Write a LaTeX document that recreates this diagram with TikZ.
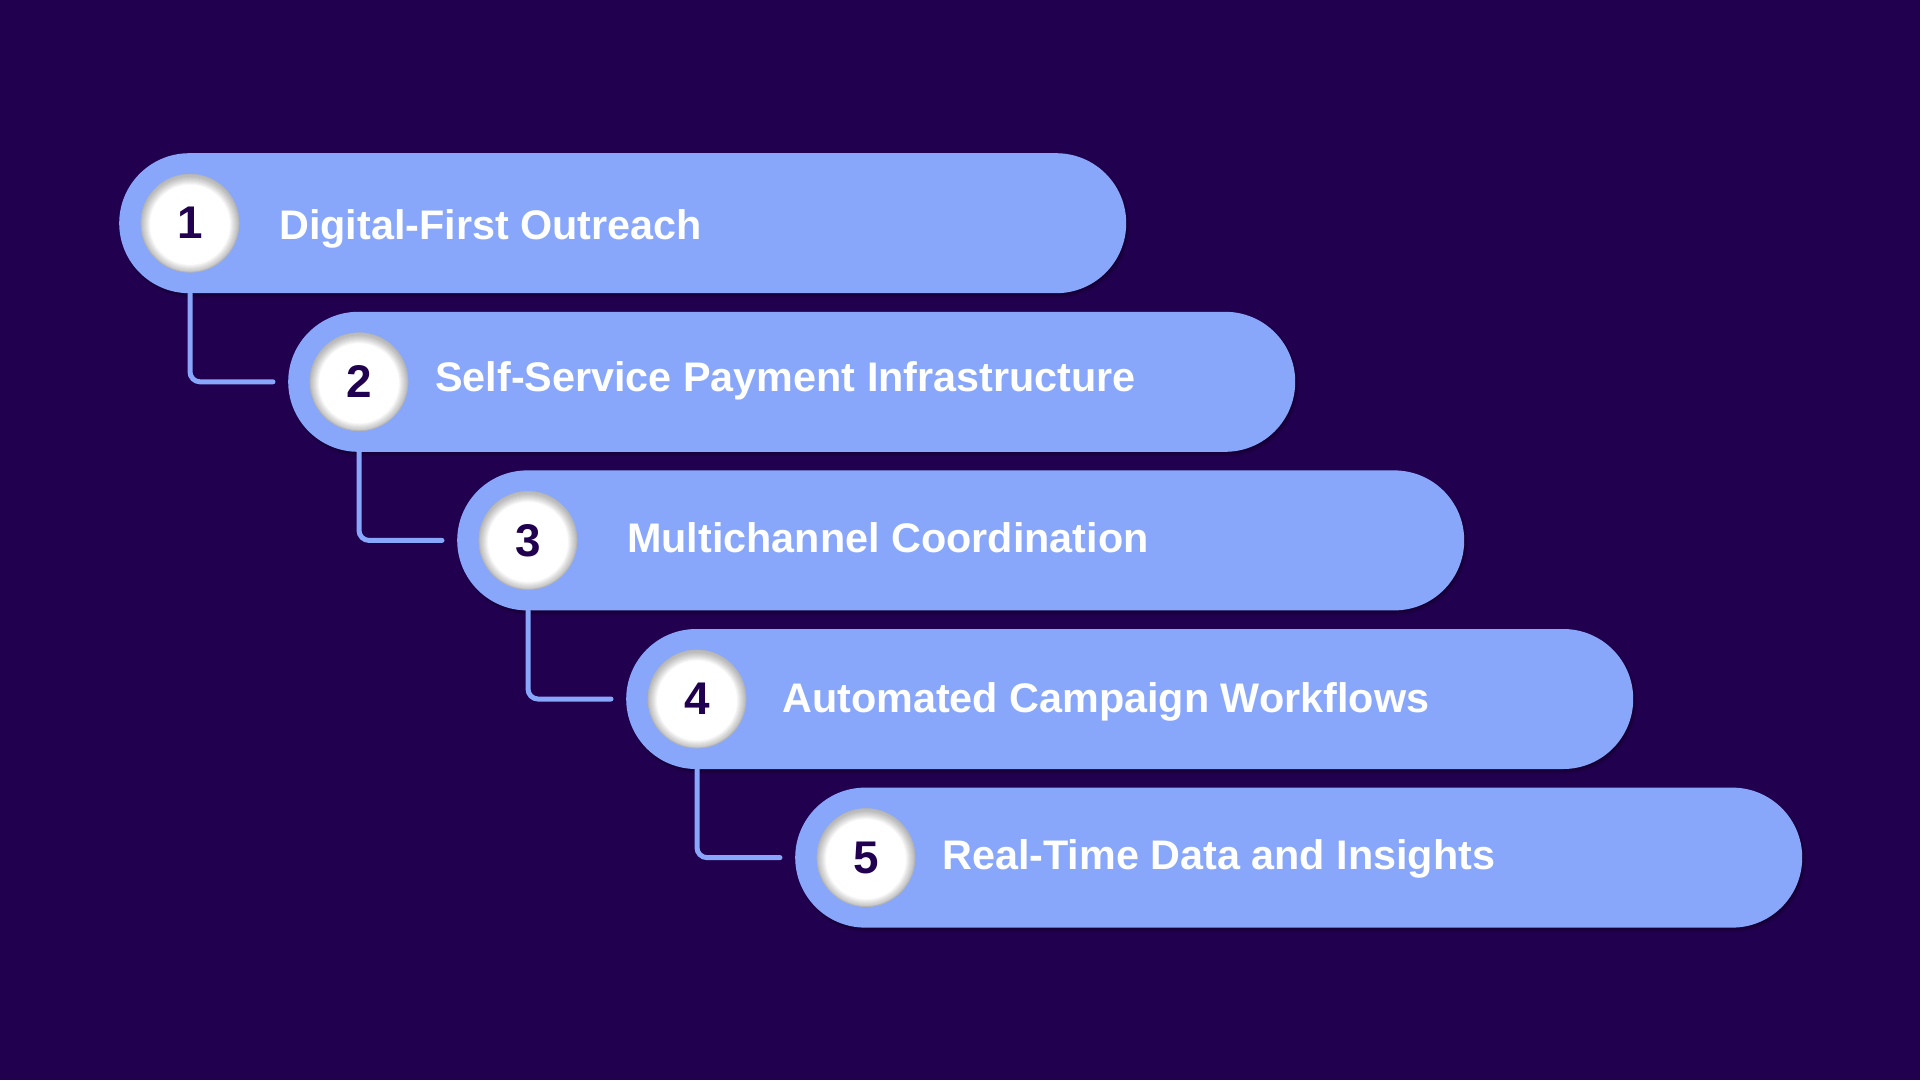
\documentclass[tikz,border=0pt]{standalone}
\usepackage{fontspec}
\setmainfont{Liberation Sans}
\usepackage{xcolor}
\usepackage{tikz}
\usetikzlibrary{calc, positioning, shadows.blur}

\definecolor{nen}{HTML}{21004F}
\definecolor{xanh}{HTML}{88A7FB}
\definecolor{vien}{HTML}{B4B4B4}

\begin{document}
\begin{tikzpicture}[x=1bp, y=-1bp,
    thanh/.style={fill=xanh, rounded corners=70bp, minimum width=1007bp, minimum height=140bp,
        inner sep=0pt, anchor=north west,
        blur shadow={shadow xshift=2bp, shadow yshift=-3bp, shadow opacity=30, shadow blur steps=6}},
    so/.style={circle, minimum size=98bp, inner sep=0pt, fill=white, draw=vien, line width=0.8bp,
        text=nen, font=\fontsize{46}{46}\selectfont\bfseries,
        path picture={
            % bóng trong ở mép
            \foreach \k in {1,...,9}
                \draw[black, opacity=0.03, line width=2*\k bp]
                    ([yshift=-1.5bp]path picture bounding box.center) circle (49bp);
        }},
    nhan/.style={anchor=base west, inner sep=0pt, text=white, font=\fontsize{41.5}{48}\selectfont\bfseries},
    noi/.style={draw=xanh, line width=5bp, rounded corners=10bp, line cap=round}]
    % Nền
    \fill[nen] (0,0) rectangle (1920,1080);

    % Các thanh
    \foreach \i/\ten/\tx/\ty in {1/Digital-First Outreach/279/16,
                                 2/Self-Service Payment Infrastructure/435/10,
                                 3/Multichannel Coordination/627/12.5,
                                 4/Automated Campaign Workflows/782/14,
                                 5/Real-Time Data and Insights/942/12.5} {
        \pgfmathsetmacro\px{119+169*(\i-1)}
        \pgfmathsetmacro\py{153+158.6*(\i-1)}
        \node[thanh] (p\i) at (\px,\py) {};
        \node[so] (c\i) at ($(p\i.west)+(71,0)$) {\raisebox{-2bp}{\i}};
        \node[nhan] (t\i) at (\tx,\py+70+\ty) {\ten};
    }

    % Đường nối
    \foreach \i/\j in {1/2, 2/3, 3/4, 4/5} {
        \draw[noi] (c\i |- p\i.south) |- ([xshift=-15bp]p\j.west);
    }
\end{tikzpicture}
\end{document}
